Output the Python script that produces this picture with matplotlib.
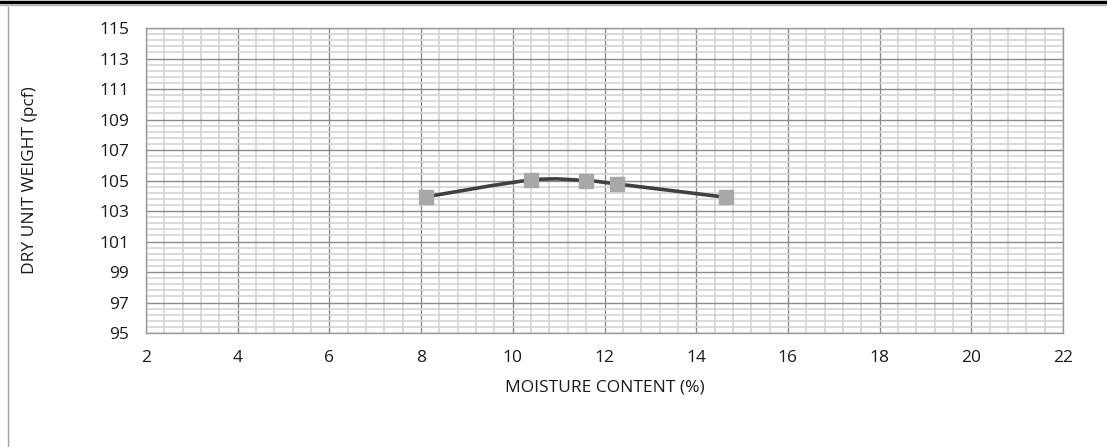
import numpy as np
import matplotlib
matplotlib.use("Agg")
import matplotlib.pyplot as plt
from matplotlib.path import Path
from matplotlib.patches import PathPatch
from matplotlib.lines import Line2D

moisture = [8.1, 10.4, 11.6, 12.28, 14.65]
dry_weight = [103.93, 105.03, 104.99, 104.77, 103.9]
x_ticks = [2, 4, 6, 8, 10, 12, 14, 16, 18, 20, 22]
y_ticks = [95, 97, 99, 101, 103, 105, 107, 109, 111, 113, 115]

plt.rcParams['font.family'] = ['Open Sans', 'DejaVu Sans']

W, H = 1107, 447
fig = plt.figure(figsize=(W / 100, H / 100), dpi=100)
ax = fig.add_axes([146 / W, 1 - 333 / H, (1063 - 146) / W, (333 - 28) / H])
ax.set_xlim(2, 22)
ax.set_ylim(95, 115)

ax.set_xticks(x_ticks)
ax.set_yticks(y_ticks)
ax.set_xticks(np.arange(2, 22.01, 0.4), minor=True)
ax.set_yticks(np.arange(95, 115.01, 0.4), minor=True)
ax.grid(which='minor', color='#d4d4d4', linewidth=1.2)
ax.grid(which='major', color='#8c8c8c', linewidth=1.0)
ax.set_axisbelow(True)
ax.tick_params(which='both', length=0)
ax.tick_params(axis='x', pad=12, labelsize=12.5, labelcolor='#1a1a1a')
ax.tick_params(axis='y', pad=12, labelsize=12.5, labelcolor='#1a1a1a')
for s in ax.spines.values():
    s.set_color('#9a9a9a')
    s.set_linewidth(1.0)

ax.set_xlabel('MOISTURE CONTENT (%)', fontsize=12.5, color='#1a1a1a')
ax.set_ylabel('DRY UNIT WEIGHT (pcf)', fontsize=12.5, color='#1a1a1a')
ax.xaxis.set_label_coords(0.5, (333 - 388) / 305)
ax.yaxis.set_label_coords((30 - 146) / 917, 0.5)
ax.xaxis.label.set_va('center')
ax.yaxis.label.set_va('center')

# Excel-like smoothed line (Bezier through points, computed in display space)
fig.canvas.draw()
pts = ax.transData.transform(np.column_stack([moisture, dry_weight]))
n = len(pts)
verts = [pts[0]]
codes = [Path.MOVETO]
for i in range(n - 1):
    p0 = pts[i - 1] if i > 0 else pts[i]
    p1 = pts[i]
    p2 = pts[i + 1]
    p3 = pts[i + 2] if i + 2 < n else pts[i + 1]
    c1 = p1 + (p2 - p0) / 6.0
    c2 = p2 - (p3 - p1) / 6.0
    verts += [c1, c2, p2]
    codes += [Path.CURVE4] * 3
verts = ax.transData.inverted().transform(np.array(verts))
patch = PathPatch(Path(verts, codes), facecolor='none', edgecolor='#404040',
                  linewidth=2.6, transform=ax.transData, zorder=3, capstyle='round')
ax.add_patch(patch)
ax.plot(moisture, dry_weight, linestyle='none', marker='s', markersize=10,
        markerfacecolor='#a8a8a8', markeredgecolor='#a8a8a8', zorder=4)

# outer frame lines
fig.add_artist(Line2D([0, 1], [1 - 2 / H, 1 - 2 / H], color='black', linewidth=2.5,
                      transform=fig.transFigure))
fig.add_artist(Line2D([0, 1], [1 - 5 / H, 1 - 5 / H], color='#b0b0b0', linewidth=1.0,
                      transform=fig.transFigure))
fig.add_artist(Line2D([8 / W, 8 / W], [0, 1 - 7 / H], color='#a0a0a0', linewidth=1.0,
                      transform=fig.transFigure))

fig.savefig('out.png', dpi=100)
